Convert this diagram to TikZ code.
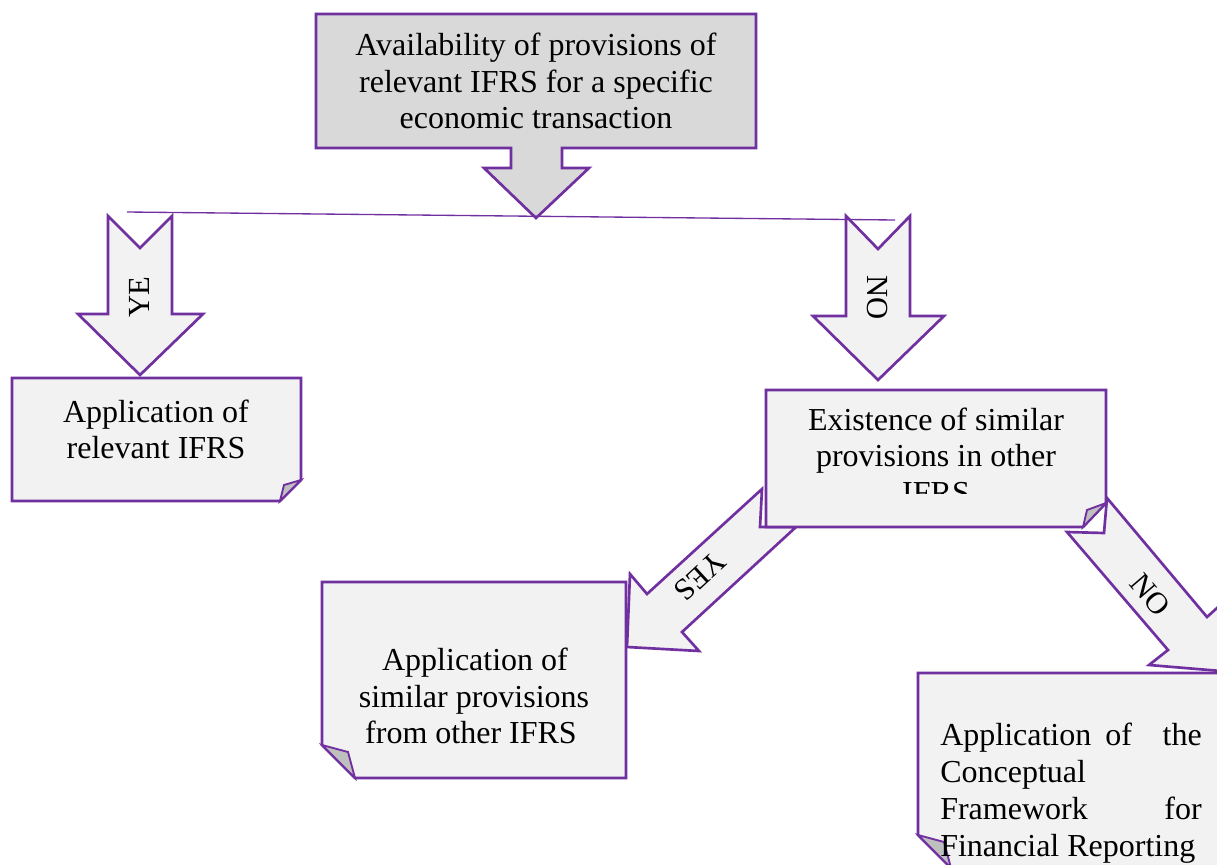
\documentclass[tikz,border=0pt]{standalone}
\usepackage{fontspec}
\setmainfont{Liberation Serif}
\definecolor{pur}{HTML}{7030A0}
\definecolor{topfill}{HTML}{D9D9D9}
\definecolor{boxfill}{HTML}{F2F2F2}
\definecolor{foldfill}{HTML}{BFBFBF}
\newcommand{\fsz}{\fontsize{24}{27.5}\selectfont}
\tikzset{
  shp/.style={draw=pur, line width=2pt, line join=miter, fill=boxfill},
  topshp/.style={shp, fill=topfill},
  foldshp/.style={draw=pur, line width=1.4pt, line join=miter, fill=foldfill},
  txt/.style={font=\fsz, inner sep=0pt, anchor=base},
  lbl/.style={font=\fontsize{23}{27}\selectfont, inner sep=0pt, anchor=center},
  conn/.style={draw=pur, line width=1pt}
}
\begin{document}
\begin{tikzpicture}[x=0.75pt, y=-0.75pt]
\useasboundingbox (0,0) rectangle (1217,864);
\fill[white] (0,0) rectangle (1217,864);

% top callout box with down arrow
\draw[topshp] (316,14) -- (756,14) -- (756,148) -- (562,148) -- (562,168) -- (589,168)
  -- (536,218) -- (484,168) -- (511,168) -- (511,148) -- (316,148) -- cycle;
\node[txt] (t1a) at (536,55) {Availability of provisions of};
\node[txt] (t1b) at (536,92) {relevant IFRS for a specific};
\node[txt] (t1c) at (536,128) {economic transaction};

% left YE arrow
\draw[shp] (108,216) -- (140,248) -- (172,216) -- (172,314) -- (203,314) -- (140,375)
  -- (78,314) -- (108,314) -- cycle;
\node[lbl, rotate=90] (lye) at (139,297) {YE};

% right NO arrow
\draw[shp] (846,216) -- (878,249) -- (910,216) -- (910,316) -- (944,316) -- (878,380)
  -- (813,316) -- (846,316) -- cycle;
\node[lbl, rotate=-90] (lno) at (877,298) {NO};

% connector line
\coordinate (lineL) at (127,212);
\coordinate (lineR) at (895,220);
\draw[conn] (lineL) -- (lineR);

% left box
\draw[shp] (12,378) -- (301,378) -- (301,480) -- (280,501) -- (12,501) -- cycle;
\draw[foldshp] (301,480) -- (284,485) -- (280,501) -- cycle;
\node[txt] (t2a) at (156,422) {Application of};
\node[txt] (t2b) at (156,458) {relevant IFRS};

% YES diagonal arrow
\draw[shp] (762,489) -- (647,594) -- (630,574) -- (627,647) -- (699,651) -- (682,632)
  -- (796,527) -- (760,527) -- cycle;
\node[lbl, rotate=222.6] (lyes) at (700,576) {YES};

% NO diagonal arrow
\draw[shp] (1107,498) -- (1207,617) -- (1227,599) -- (1221,671) -- (1149,665) -- (1168,650)
  -- (1067,532) -- (1104,533) -- cycle;
\node[lbl, rotate=-49.5] (lno2) at (1150,595) {NO};

% existence box
\draw[shp] (766,390) -- (1106,390) -- (1106,503) -- (1083,527) -- (766,527) -- cycle;
\draw[foldshp] (1106,503) -- (1087,510) -- (1083,527) -- cycle;
\begin{scope}
  \clip (766,390) rectangle (1106,493);
  \node[txt] (t3a) at (936,430) {Existence of similar};
  \node[txt] (t3b) at (936,466.5) {provisions in other};
  \node[txt] (t3c) at (936,503) {IFRS};
\end{scope}

% bottom middle box
\draw[shp] (322,582) -- (626,582) -- (626,778) -- (355,778) -- (322,745) -- cycle;
\draw[foldshp] (322,745) -- (348,752) -- (355,778) -- cycle;
\node[txt] (t4a) at (475,670) {Application of};
\node[txt] (t4b) at (474,707) {similar provisions};
\node[txt] (t4c) at (471,743) {from other IFRS};

% last box
\draw[shp] (918,673) -- (1240,673) -- (1240,900) -- (983,900) -- (918,835) -- cycle;
\draw[foldshp] (918,835) -- (944,842) -- (951,868) -- cycle;
\node[txt, anchor=base west] (t5a) at (940,745) {Application};
\node[txt, anchor=base west] (t5b) at (1105,745) {of};
\node[txt, anchor=base east] (t5c) at (1202,745) {the};
\node[txt, anchor=base west] (t5d) at (940,782) {Conceptual};
\node[txt, anchor=base west] (t5e) at (940,819) {Framework};
\node[txt, anchor=base east] (t5f) at (1202,819) {for};
\node[txt, anchor=base west] (t5g) at (940,856) {Financial Reporting};
\end{tikzpicture}
\end{document}
